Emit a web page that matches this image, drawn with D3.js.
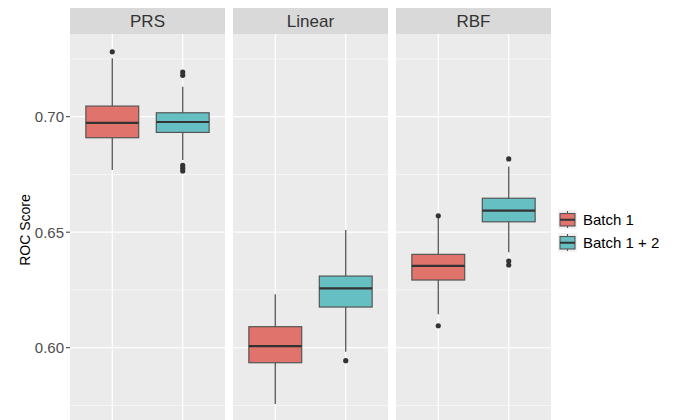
<!DOCTYPE html>
<html>
<head>
<meta charset="utf-8">
<script src="https://cdn.jsdelivr.net/npm/d3@7"></script>
<style>
  html, body { margin: 0; padding: 0; background: #fff; overflow: hidden; }
  svg { display: block; font-family: "Liberation Sans", Arial, Helvetica, sans-serif; }
</style>
</head>
<body>
<div id="chart"></div>
<script>
(function () {
  'use strict';

  // facets and groups
  const methods = ['PRS', 'Linear', 'RBF'];
  const batches = ['Batch 1', 'Batch 1 + 2'];

  // box stats per method, Batch 1
  const b1Low = [0.6769, 0.5756, 0.6145];
  const b1Q1 = [0.6909, 0.5935, 0.6293];
  const b1Med = [0.6973, 0.6007, 0.6354];
  const b1Q3 = [0.7046, 0.6091, 0.6404];
  const b1High = [0.7253, 0.6231, 0.6560];
  const b1Out = [[0.7281], [], [0.6571, 0.6095]];

  // box stats per method, Batch 1 + 2
  const b2Low = [0.6813, 0.5983, 0.6413];
  const b2Q1 = [0.6932, 0.6176, 0.6545];
  const b2Med = [0.6977, 0.6257, 0.6593];
  const b2Q3 = [0.7017, 0.6310, 0.6647];
  const b2High = [0.7130, 0.6510, 0.6784];
  const b2Out = [[0.7193, 0.7179, 0.6789, 0.6777, 0.6765], [0.5944], [0.6817, 0.6375, 0.6358]];

  const yTicks = [0.60, 0.65, 0.70];
  const yMinor = [0.575, 0.625, 0.675, 0.725];

  const COLORS = { 'Batch 1': '#E0736B', 'Batch 1 + 2': '#66BFC3' };

  const W = 673, H = 420;
  const panelW = 155, gap = 8, left = 70;
  const stripTop = 8, stripH = 26, panelTop = stripTop + stripH;

  const svg = d3.select('#chart').append('svg')
    .attr('width', W).attr('height', H);

  const y = d3.scaleLinear().domain([0.60, 0.70]).range([347.7, 116.7]);

  const x = d3.scalePoint().domain(batches).range([0, panelW]).padding(0.6);
  const boxW = x.step() * 0.75;

  const stats = [
    { low: b1Low, q1: b1Q1, med: b1Med, q3: b1Q3, high: b1High, out: b1Out },
    { low: b2Low, q1: b2Q1, med: b2Med, q3: b2Q3, high: b2High, out: b2Out }
  ];

  methods.forEach((m, i) => {
    const g = svg.append('g').attr('transform', `translate(${left + i * (panelW + gap)},0)`);

    // strip
    g.append('rect').attr('x', 0).attr('y', stripTop).attr('width', panelW).attr('height', stripH)
      .attr('fill', '#D9D9D9');
    g.append('text').attr('x', panelW / 2).attr('y', stripTop + stripH / 2 + 6)
      .attr('text-anchor', 'middle').attr('font-size', 17).attr('fill', '#333').text(m);

    // panel
    g.append('rect').attr('x', 0).attr('y', panelTop).attr('width', panelW).attr('height', H - panelTop)
      .attr('fill', '#EBEBEB');

    g.selectAll('line.minor').data(yMinor).join('line')
      .attr('x1', 0).attr('x2', panelW).attr('y1', d => y(d)).attr('y2', d => y(d))
      .attr('stroke', '#fff').attr('stroke-width', 0.6);
    g.selectAll('line.major').data(yTicks).join('line')
      .attr('x1', 0).attr('x2', panelW).attr('y1', d => y(d)).attr('y2', d => y(d))
      .attr('stroke', '#fff').attr('stroke-width', 1.2);
    g.selectAll('line.vx').data(batches).join('line')
      .attr('x1', d => x(d)).attr('x2', d => x(d)).attr('y1', panelTop).attr('y2', H)
      .attr('stroke', '#fff').attr('stroke-width', 1.2);

    batches.forEach((b, j) => {
      const s = stats[j];
      const cx = x(b);
      // whiskers
      g.append('line').attr('x1', cx).attr('x2', cx)
        .attr('y1', y(s.high[i])).attr('y2', y(s.low[i]))
        .attr('stroke', '#555').attr('stroke-width', 1.3);
      // box
      g.append('rect').attr('x', cx - boxW / 2).attr('width', boxW)
        .attr('y', y(s.q3[i])).attr('height', y(s.q1[i]) - y(s.q3[i]))
        .attr('fill', COLORS[b]).attr('stroke', '#555').attr('stroke-width', 1.2);
      // median
      g.append('line').attr('x1', cx - boxW / 2).attr('x2', cx + boxW / 2)
        .attr('y1', y(s.med[i])).attr('y2', y(s.med[i]))
        .attr('stroke', '#333').attr('stroke-width', 2.2);
      // outliers
      g.selectAll(null).data(s.out[i]).join('circle')
        .attr('cx', cx).attr('cy', d => y(d)).attr('r', 2.6).attr('fill', '#333');
    });
  });

  // y axis
  const yAxis = svg.append('g');
  yAxis.selectAll('line').data(yTicks).join('line')
    .attr('x1', left - 4).attr('x2', left).attr('y1', d => y(d)).attr('y2', d => y(d))
    .attr('stroke', '#333').attr('stroke-width', 1);
  yAxis.selectAll('text').data(yTicks).join('text')
    .attr('x', left - 6).attr('y', d => y(d) + 5.3)
    .attr('text-anchor', 'end').attr('font-size', 15).attr('fill', '#4d4d4d')
    .text(d => d3.format('.2f')(d));

  svg.append('text').attr('transform', `translate(30,230) rotate(-90)`)
    .attr('text-anchor', 'middle').attr('font-size', 14).attr('fill', '#000').text('ROC Score');

  // legend
  const lg = svg.append('g').attr('transform', 'translate(558,210)');
  batches.forEach((b, j) => {
    const k = lg.append('g').attr('transform', `translate(0,${j * 23})`);
    k.append('rect').attr('width', 19).attr('height', 19).attr('fill', '#F2F2F2');
    k.append('line').attr('x1', 9.5).attr('x2', 9.5).attr('y1', 1).attr('y2', 18)
      .attr('stroke', '#555').attr('stroke-width', 1.1);
    k.append('rect').attr('x', 2).attr('y', 3.5).attr('width', 15).attr('height', 12.5)
      .attr('fill', COLORS[b]).attr('stroke', '#555').attr('stroke-width', 1.1);
    k.append('line').attr('x1', 2).attr('x2', 17).attr('y1', 9.75).attr('y2', 9.75)
      .attr('stroke', '#333').attr('stroke-width', 2);
    k.append('text').attr('x', 25).attr('y', 15).attr('font-size', 15).attr('fill', '#000').text(b);
  });
})();
</script>
</body>
</html>
